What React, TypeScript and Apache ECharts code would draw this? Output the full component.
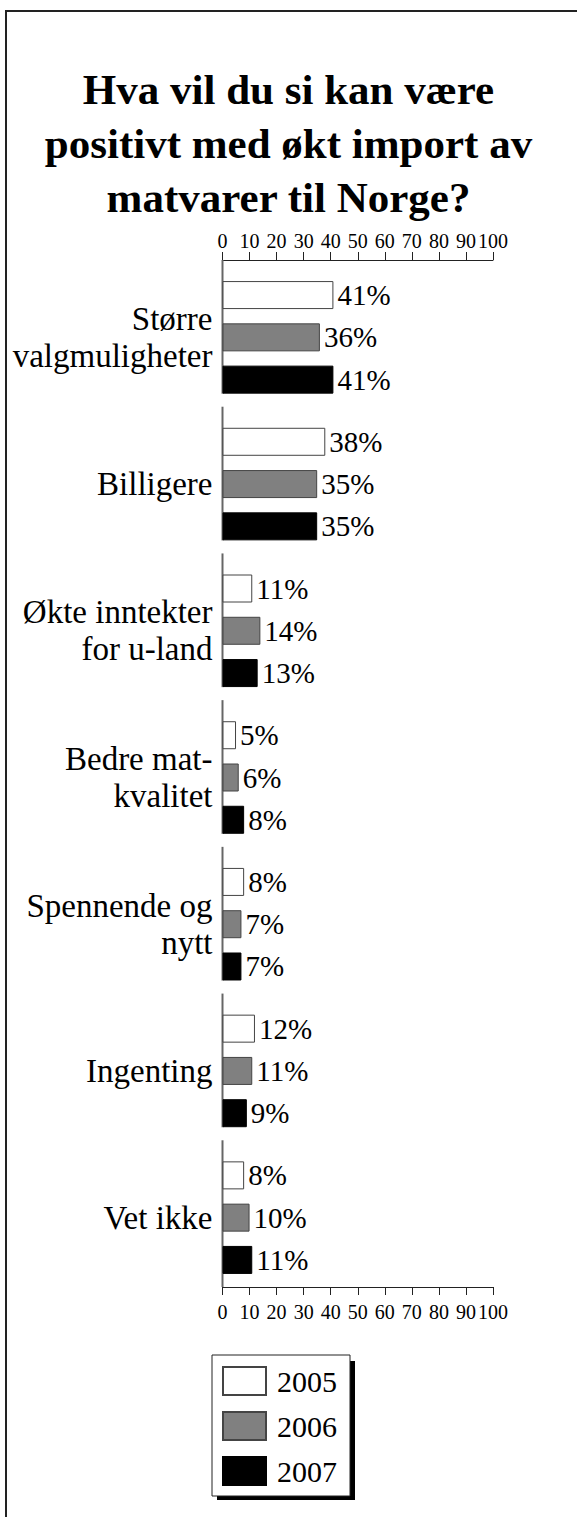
import React, { useEffect, useRef } from "react";
import * as echarts from "echarts";

const titleText = "Hva vil du si kan være\npositivt med økt import av\nmatvarer til Norge?";
const categories = [
  "Større\nvalgmuligheter",
  "Billigere",
  "Økte inntekter\nfor u-land",
  "Bedre mat-\nkvalitet",
  "Spennende og\nnytt",
  "Ingenting",
  "Vet ikke",
];
const years = ["2005", "2006", "2007"];
const values2005 = [41, 38, 11, 5, 8, 12, 8];
const values2006 = [36, 35, 14, 6, 7, 11, 10];
const values2007 = [41, 35, 13, 8, 7, 9, 11];
const axisMin = 0;
const axisMax = 100;
const axisInterval = 10;

const FONT = "'Liberation Serif', 'Times New Roman', serif";

export default function App() {
  const ref = useRef<HTMLDivElement>(null);

  useEffect(() => {
    document.body.style.margin = "0";
    if (!ref.current) return;
    const chart = echarts.init(ref.current, undefined, { renderer: "svg" });

    const valueLabel = {
      show: true,
      position: "right",
      distance: 4,
      formatter: "{c}%",
      fontSize: 29,
      fontFamily: FONT,
      color: "#000",
    };

    const xAxisBase = (position: string, margin: number) => ({
      gridIndex: 1,
      type: "value",
      min: axisMin,
      max: axisMax,
      interval: axisInterval,
      position,
      axisLine: { show: true, lineStyle: { color: "#222", width: 1 } },
      axisTick: { show: true, length: 8, lineStyle: { color: "#222", width: 1 } },
      axisLabel: { margin, fontSize: 20, color: "#000", fontFamily: FONT },
      splitLine: { show: false },
    });

    const seriesStyles = [
      { color: "#ffffff", borderColor: "#444", borderWidth: 1 },
      { color: "#808080", borderColor: "#444", borderWidth: 1 },
      { color: "#000000", borderColor: "#000", borderWidth: 1 },
    ];
    const seriesData = [values2005, values2006, values2007];

    const option: any = {
      animation: false,
      backgroundColor: "#fff",
      title: {
        text: titleText,
        left: "center",
        top: 57,
        textStyle: {
          fontSize: 43,
          fontWeight: "bold",
          fontFamily: FONT,
          lineHeight: 54,
          color: "#000",
        },
      },
      grid: [
        { left: 222.5, width: 270.5, top: 264, height: 1027 },
        { left: 222.5, width: 270.5, top: 260, height: 1027 },
      ],
      xAxis: [
        { gridIndex: 0, type: "value", min: axisMin, max: axisMax, show: false },
        xAxisBase("top", 9),
        xAxisBase("bottom", 15),
      ],
      yAxis: [
        {
          gridIndex: 0,
          type: "category",
          data: categories,
          inverse: true,
          axisLine: { show: false },
          axisTick: { show: false },
          axisLabel: {
            margin: 10,
            fontSize: 33,
            lineHeight: 37,
            color: "#000",
            fontFamily: FONT,
            align: "right",
          },
        },
        { gridIndex: 1, type: "category", data: categories, inverse: true, show: false },
      ],
      legend: {
        data: years,
        orient: "vertical",
        left: 212,
        top: 1355,
        padding: [11, 13, 10, 10],
        itemWidth: 43,
        itemHeight: 28,
        itemGap: 15,
        icon: "rect",
        backgroundColor: "#fff",
        borderColor: "#222",
        borderWidth: 1,
        textStyle: {
          fontSize: 30,
          lineHeight: 28,
          fontFamily: FONT,
          color: "#000",
          padding: [0, 0, 0, 6],
        },
        z: 10,
      },
      graphic: [
        {
          type: "rect",
          z: 0,
          silent: true,
          shape: { x: 6, y: 11, width: 700, height: 1700 },
          style: { fill: "none", stroke: "#222", lineWidth: 2 },
        },
        {
          type: "rect",
          z: 0,
          silent: true,
          shape: { x: 217, y: 1361, width: 138, height: 139 },
          style: { fill: "#000" },
        },
      ],
      series: [
        ...years.map((y, i) => ({
          type: "bar",
          name: y,
          xAxisIndex: 0,
          yAxisIndex: 0,
          data: seriesData[i],
          barWidth: 28,
          barGap: "51%",
          itemStyle: seriesStyles[i],
          label: valueLabel,
          z: 3,
        })),
        {
          type: "custom",
          name: "axis",
          xAxisIndex: 1,
          yAxisIndex: 1,
          silent: true,
          z: 2,
          data: categories.map((_, i) => [0, i]),
          renderItem: (params: any, api: any) => {
            const idx = api.value(1);
            const p = api.coord([0, idx]);
            const h = api.size([0, 1])[1];
            const y0 = p[1] - h / 2;
            const y1 = idx === categories.length - 1 ? p[1] + h / 2 : y0 + h - 13;
            return {
              type: "line",
              shape: { x1: p[0], y1: y0, x2: p[0], y2: y1 },
              style: { stroke: "#666", lineWidth: 2 },
            };
          },
        },
      ],
    };

    chart.setOption(option);
    return () => chart.dispose();
  }, []);

  return <div ref={ref} style={{ width: 577, height: 1517 }} />;
}
